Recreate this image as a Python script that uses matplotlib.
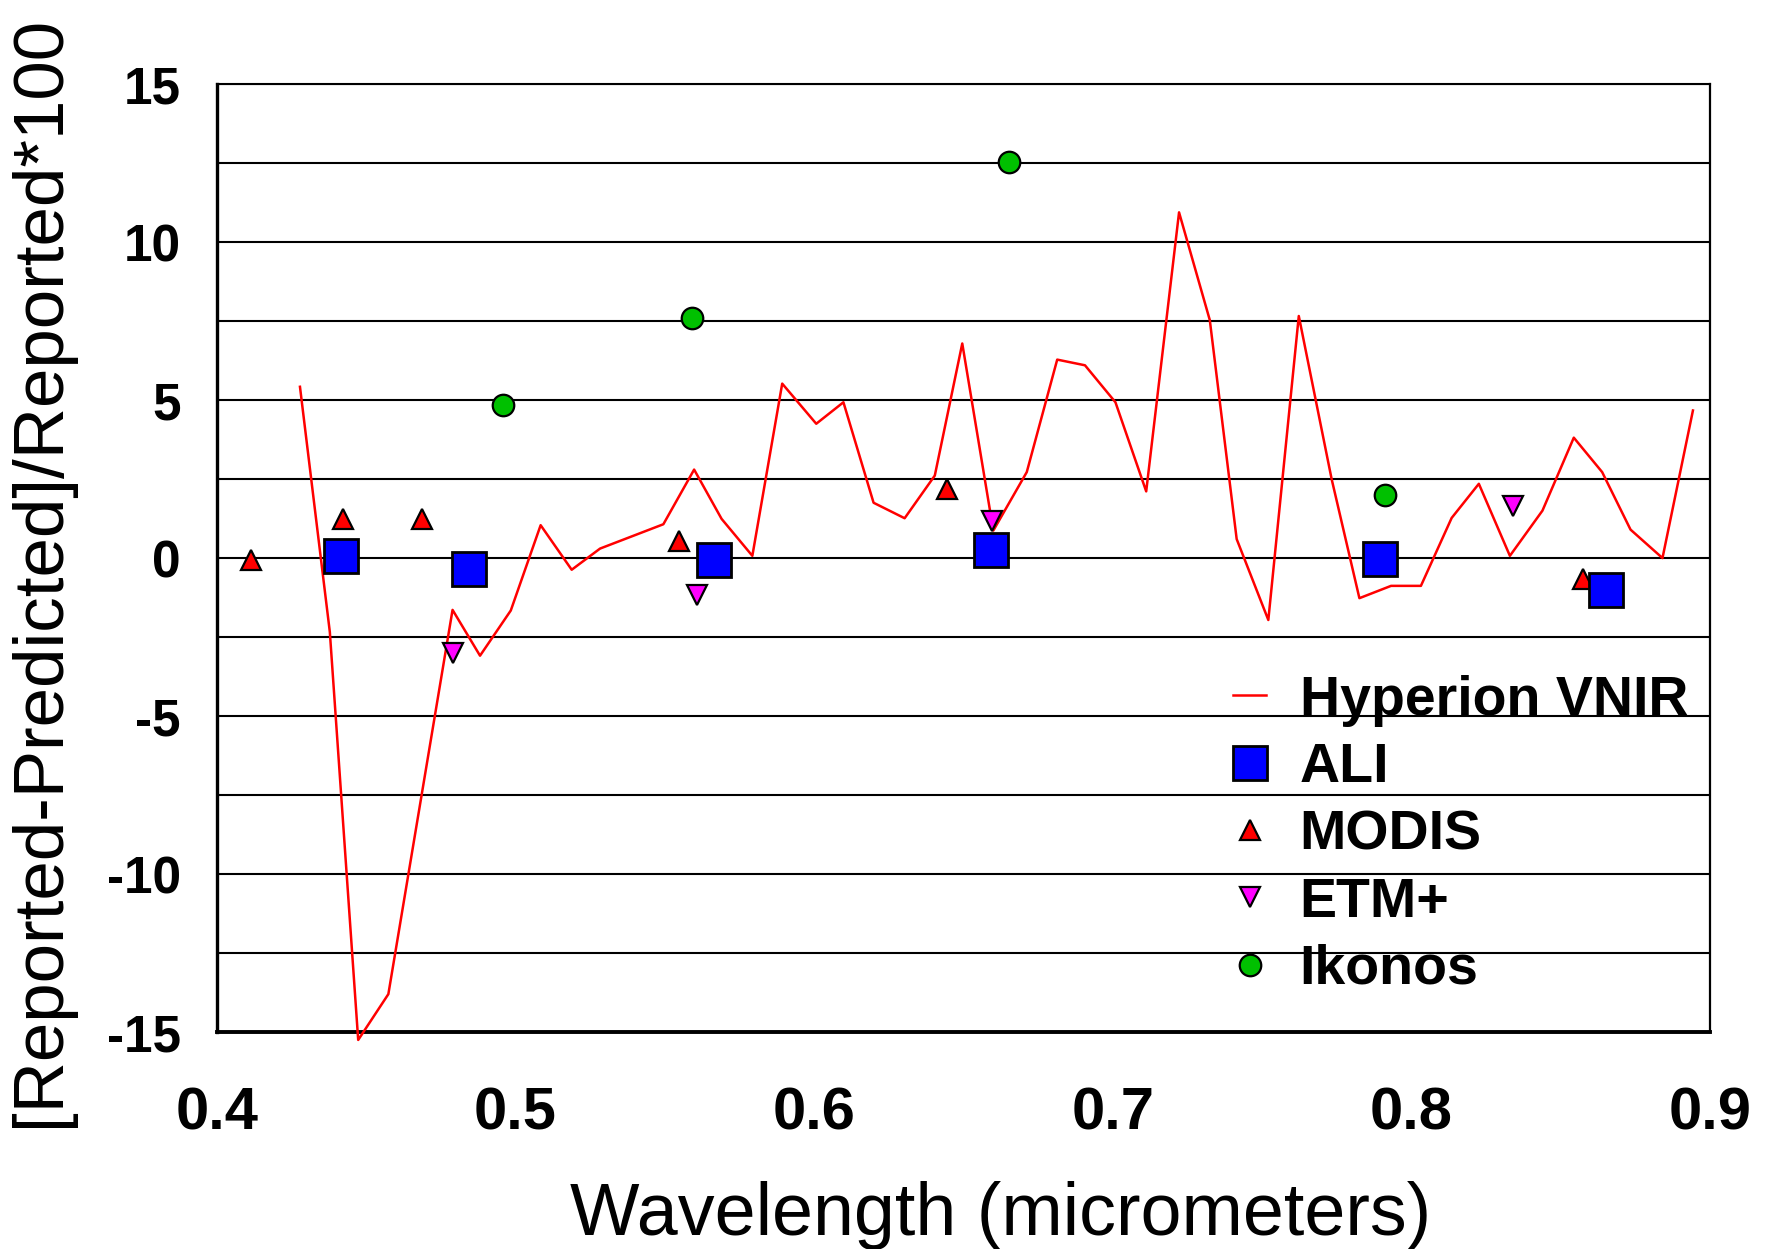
import numpy as np
import matplotlib
matplotlib.use('Agg')
import matplotlib.pyplot as plt

plt.rcParams['font.family'] = ['Liberation Sans', 'DejaVu Sans']
plt.rcParams['axes.unicode_minus'] = False

# Hyperion VNIR band-by-band differences (percent)
hyp_wl = [0.4278, 0.4378, 0.4473, 0.4574, 0.4789, 0.4881, 0.4984, 0.5084, 0.5188,
          0.5283, 0.5495, 0.5598, 0.5690, 0.5793, 0.5893, 0.6007, 0.6098, 0.6199,
          0.6303, 0.6404, 0.6496, 0.6600, 0.6712, 0.6814, 0.6907, 0.7009, 0.7112,
          0.7222, 0.7325, 0.7415, 0.7521, 0.7623, 0.7733, 0.7826, 0.7932, 0.8032,
          0.8135, 0.8226, 0.8330, 0.8439, 0.8544, 0.8639, 0.8734, 0.8841, 0.8943]
hyp_pct = [5.42, -2.34, -15.25, -13.8, -1.64, -3.09, -1.66, 1.04, -0.37,
           0.30, 1.07, 2.80, 1.24, 0.07, 5.52, 4.25, 4.93, 1.75,
           1.26, 2.61, 6.79, 0.87, 2.72, 6.28, 6.10, 4.93, 2.11,
           10.94, 7.53, 0.60, -1.96, 7.66, 2.5, -1.27, -0.88, -0.88,
           1.27, 2.35, 0.07, 1.50, 3.81, 2.72, 0.90, 0.0, 4.67]

ali_wl = [0.4416, 0.4845, 0.5663, 0.6592, 0.7894, 0.8651]
ali_pct = [0.05, -0.34, -0.05, 0.25, -0.04, -1.0]

modis_wl = [0.4114, 0.4421, 0.4687, 0.5547, 0.6445, 0.8576]
modis_pct = [-0.05, 1.23, 1.23, 0.55, 2.2, -0.67]

etm_wl = [0.4789, 0.5606, 0.6597, 0.8339]
etm_pct = [-3.0, -1.18, 1.18, 1.65]

ikonos_wl = [0.4957, 0.5590, 0.6654, 0.7913]
ikonos_pct = [4.85, 7.60, 12.53, 1.98]

x_ticks = [0.4, 0.5, 0.6, 0.7, 0.8, 0.9]
y_ticks = [-15, -10, -5, 0, 5, 10, 15]

fig = plt.figure(figsize=(17.74, 12.49), dpi=100)
ax = fig.add_axes([0.1223, 0.1737, 0.8416, 0.759])

ax.plot(hyp_wl, hyp_pct, color='#ff0000', lw=1.8, label='Hyperion VNIR',
        clip_on=False, zorder=3)
ax.plot(ali_wl, ali_pct, ls='none', marker='s', ms=25, mfc='#0000ff', mec='black',
        mew=2, label='ALI', zorder=5)
ax.plot(modis_wl, modis_pct, ls='none', marker='^', ms=14.5, mfc='#ff0000', mec='black',
        mew=1.6, label='MODIS', zorder=4)
ax.plot(etm_wl, etm_pct, ls='none', marker='v', ms=14.5, mfc='#ff00ff', mec='black',
        mew=1.6, label='ETM+', zorder=4)
ax.plot(ikonos_wl, ikonos_pct, ls='none', marker='o', ms=15.5, mfc='#00c000', mec='black',
        mew=1.6, label='Ikonos', zorder=4)

ax.set_xlim(0.4, 0.9)
ax.set_ylim(-15, 15)
ax.set_xticks(x_ticks)
ax.set_xticklabels([f'{v:.1f}' for v in x_ticks])
ax.set_yticks(y_ticks)
ax.set_yticks(np.arange(-12.5, 15, 5), minor=True)
ax.grid(which='both', axis='y', color='black', lw=1.5, zorder=0)
ax.set_axisbelow(True)

ax.tick_params(axis='both', which='both', length=0)
ax.tick_params(axis='y', labelsize=37, pad=26)
ax.tick_params(axis='x', labelsize=43, pad=39)
for lab in ax.get_xticklabels() + ax.get_yticklabels():
    lab.set_fontweight('bold')

ax.spines['left'].set_linewidth(2.4)
ax.spines['bottom'].set_linewidth(2.8)
ax.spines['top'].set_linewidth(1.5)
ax.spines['right'].set_linewidth(1.6)

ax.set_xlabel('Wavelength (micrometers)', fontsize=53)
ax.xaxis.set_label_coords(0.525, -0.157)
ax.set_ylabel('[Reported-Predicted]/Reported*100', fontsize=51)
ax.yaxis.label.set_verticalalignment('center')
ax.yaxis.set_label_coords(-0.118, 0.486)

leg = ax.legend(loc='upper left', bbox_to_anchor=(0.6805, 0.377), frameon=False,
                prop={'weight': 'bold', 'size': 40}, borderpad=0,
                handlelength=0.6, handletextpad=0.6, labelspacing=0.276,
                borderaxespad=0)

fig.savefig('out.png', dpi=100)
